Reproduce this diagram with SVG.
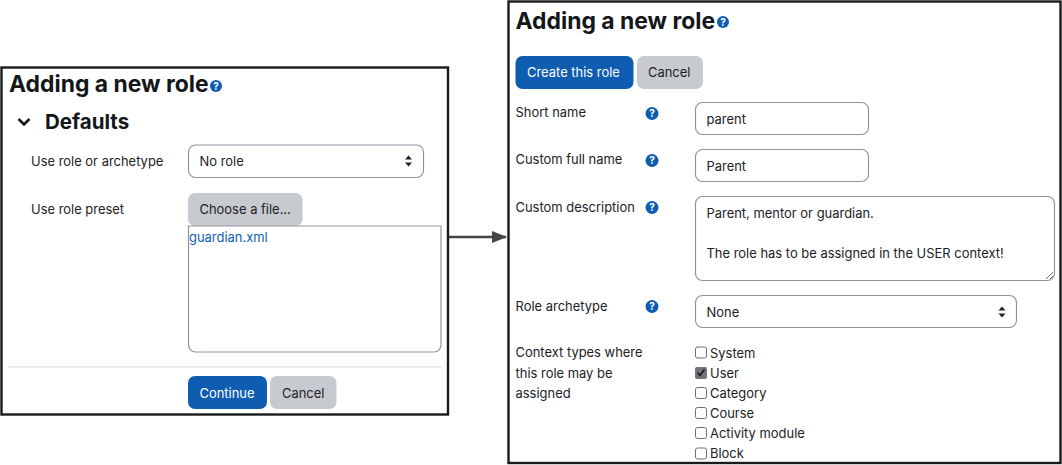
<svg xmlns="http://www.w3.org/2000/svg" width="1062" height="465" viewBox="0 0 1062 465">
<style>
text{font-family:Inter,"Liberation Sans",sans-serif;font-size:12.95px;fill:#1d2125}
.title{font-size:22.9px;font-weight:700;fill:#14171a}
.head{font-size:20.5px;font-weight:700;fill:#14171a}
.panel{fill:#fff;stroke:#1a1a1a;stroke-width:2.4}
.field{fill:#fff;stroke:#8f959e;stroke-width:1.2}
.pri{fill:#0f5db0}
.sec{fill:#c7cbcf}
.wt{fill:#fff}
.link{fill:#0f5db0}
.ic{fill:#0f5db0}
.q{font-size:10px;font-weight:700;fill:#fff;text-anchor:middle}
.cb{fill:#fff;stroke:#6a7077;stroke-width:1}
.car{fill:#1d2125}
</style>
<defs>
<marker id="arrow" markerUnits="userSpaceOnUse" markerWidth="15" markerHeight="12" refX="14" refY="6" orient="auto"><path d="M0 0L15 6L0 12Z" fill="#444"/></marker>
</defs>
<g id="panel-left">
<rect class="panel" x="1.500" y="67.500" width="446.500" height="347"/>
<text class="title" x="9" y="92">Adding a new role</text>
<circle class="ic" cx="216" cy="86" r="6"/><text class="q" x="216" y="89.500">?</text>
<path d="M18.500 119L24 124.500L29.500 119" fill="none" stroke="#14171a" stroke-width="2.600"/>
<text class="head" x="45" y="129">Defaults</text>
<text x="31" y="166">Use role or archetype</text>
<rect class="field" x="188.500" y="145" width="235" height="32.500" rx="7"/>
<text x="199.500" y="166">No role</text>
<path class="car" d="M405 159.500L408.500 155.500L412 159.500ZM405 162.500L408.500 166.500L412 162.500Z"/>
<text x="31" y="214">Use role preset</text>
<rect class="sec" x="188" y="193" width="114.500" height="33" rx="7"/>
<text x="199.500" y="214">Choose a file...</text>
<path class="field" d="M188.500 226H441V345a7 7 0 0 1-7 7H195.500a7 7 0 0 1-7-7Z"/>
<text class="link" x="189" y="242">guardian.xml</text>
<rect x="8" y="366" width="434" height="1.800" fill="#e9ebed"/>
<rect class="pri" x="188" y="376" width="79" height="33" rx="7"/>
<text class="wt" x="199.500" y="398">Continue</text>
<rect class="sec" x="270" y="376" width="66.500" height="33" rx="7"/>
<text x="282" y="398">Cancel</text>
</g>
<g id="panel-right">
<rect class="panel" x="508.500" y="1.500" width="552" height="461.500"/>
<text class="title" x="515.500" y="29">Adding a new role</text>
<circle class="ic" cx="723" cy="22" r="6"/><text class="q" x="723" y="25.500">?</text>
<rect class="pri" x="515.500" y="56" width="118" height="33" rx="7"/>
<text class="wt" x="527" y="77">Create this role</text>
<rect class="sec" x="637" y="56" width="66" height="33" rx="7"/>
<text x="648" y="77">Cancel</text>
<text x="515.500" y="117">Short name</text>
<circle class="ic" cx="652" cy="113.500" r="6.500"/><text class="q" x="652" y="117">?</text>
<rect class="field" x="695.500" y="102.500" width="173" height="32" rx="7"/>
<text x="706.500" y="123.500">parent</text>
<text x="515.500" y="164">Custom full name</text>
<circle class="ic" cx="652" cy="160.500" r="6.500"/><text class="q" x="652" y="164">?</text>
<rect class="field" x="695.500" y="149.500" width="173" height="32" rx="7"/>
<text x="706.500" y="170.500">Parent</text>
<text x="515.500" y="211.500">Custom description</text>
<circle class="ic" cx="652" cy="207.500" r="6.500"/><text class="q" x="652" y="211">?</text>
<rect class="field" x="695.500" y="196.500" width="359" height="84" rx="7"/>
<text x="706.500" y="218">Parent, mentor or guardian.</text>
<text x="706.500" y="258">The role has to be assigned in the USER context!</text>
<path d="M1046 279L1053 272M1050 279L1053 276" stroke="#777" stroke-width="1" fill="none"/>
<text x="515.500" y="310.500">Role archetype</text>
<circle class="ic" cx="652" cy="306.500" r="6.500"/><text class="q" x="652" y="310">?</text>
<rect class="field" x="695.500" y="295.500" width="321" height="32" rx="7"/>
<text x="706.500" y="316.500">None</text>
<path class="car" d="M998.500 310.500L1002 306.500L1005.500 310.500ZM998.500 313.500L1002 317.500L1005.500 313.500Z"/>
<text x="515.500" y="357">Context types where</text>
<text x="515.500" y="377.500">this role may be</text>
<text x="515.500" y="398">assigned</text>
<rect class="cb" x="695.500" y="347" width="11" height="11" rx="2"/>
<text x="710" y="357.500">System</text>
<rect x="695" y="367" width="12" height="12" rx="2" fill="#6f7479"/>
<path d="M697.500 372.500L700 375.500L704.500 369.500" fill="none" stroke="#111" stroke-width="1.300"/>
<text x="710" y="377.500">User</text>
<rect class="cb" x="695.500" y="387.500" width="11" height="11" rx="2"/>
<text x="710" y="398">Category</text>
<rect class="cb" x="695.500" y="407.500" width="11" height="11" rx="2"/>
<text x="710" y="418">Course</text>
<rect class="cb" x="695.500" y="427.500" width="11" height="11" rx="2"/>
<text x="710" y="438">Activity module</text>
<rect class="cb" x="695.500" y="448" width="11" height="11" rx="2"/>
<text x="710" y="458">Block</text>
</g>
<g id="connectors">
<path d="M449 237H506" stroke="#444" stroke-width="2.600" fill="none" marker-end="url(#arrow)"/>
</g>
</svg>
